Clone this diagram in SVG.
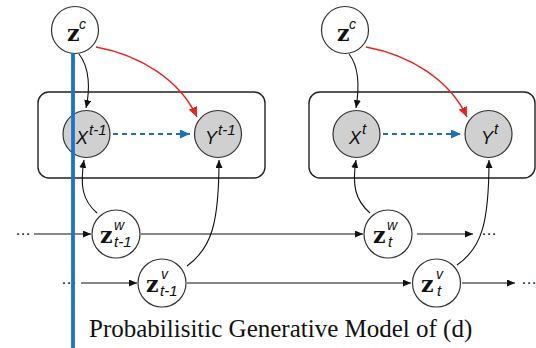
<svg xmlns="http://www.w3.org/2000/svg" width="536" height="348" viewBox="0 0 536 348">
  <defs>
    <marker id="ah" markerUnits="userSpaceOnUse" markerWidth="9" markerHeight="8" refX="8" refY="3.5" orient="auto">
      <path d="M0,0 L8,3.5 L0,7 Z" fill="#111"/>
    </marker>
    <marker id="ahRed" markerUnits="userSpaceOnUse" markerWidth="11" markerHeight="10" refX="10" refY="4.5" orient="auto">
      <path d="M0,0 L10,4.5 L0,9 Z" fill="#e8231c"/>
    </marker>
    <marker id="ahBlue" markerUnits="userSpaceOnUse" markerWidth="11" markerHeight="10" refX="10" refY="4.5" orient="auto">
      <path d="M0,0 L10,4.5 L0,9 Z" fill="#1f6fb8"/>
    </marker>
  </defs>
  <style>
    .plate { fill: none; stroke: #222; stroke-width: 1.4; }
    .latent { fill: #fff; stroke: #333; stroke-width: 1.2; }
    .obs { fill: #d0d0d0; stroke: #333; stroke-width: 1.2; }
    .edge { fill: none; stroke: #111; stroke-width: 1.1; marker-end: url(#ah); }
    .red { fill: none; stroke: #e8231c; stroke-width: 1.4; marker-end: url(#ahRed); }
    .dash { fill: none; stroke: #1f6fb8; stroke-width: 1.8; stroke-dasharray: 5 4; marker-end: url(#ahBlue); }
    .zb { font-family: "DejaVu Serif", serif; font-weight: bold; font-size: 22px; fill: #111; }
    .it { font-family: "Liberation Sans", sans-serif; font-style: italic; fill: #111; }
    .big { font-size: 18px; }
    .sm { font-size: 14px; }
    .sup { font-size: 15px; }
    .sub { font-size: 15px; }
    .dots { font-family: "Liberation Sans", sans-serif; font-size: 16px; fill: #111; }
    .title { font-family: "Liberation Serif", serif; font-size: 25px; fill: #111; }
  </style>

  <!-- plates around observed pairs -->
  <rect class="plate" x="38" y="92" width="227" height="86" rx="11"/>
  <rect class="plate" x="309" y="92" width="226" height="86" rx="11"/>

  <g id="connectors">
    <!-- global latent to X and Y -->
    <path class="edge" d="M79,54 C90,68 90,90 86,108"/>
    <path class="red" d="M96,47 C140,55 180,80 197,117"/>
    <path class="edge" d="M349,54 C360,68 359,90 356,108"/>
    <path class="red" d="M366,47 C410,55 450,80 467,117"/>
    <!-- X to Y -->
    <path class="dash" d="M113,134 L190,134"/>
    <path class="dash" d="M383,134 L461,134"/>
    <!-- dynamic latents to observed -->
    <path class="edge" d="M97,213 C82,200 80,185 84,160"/>
    <path class="edge" d="M187,266 C212,248 219,222 219,160"/>
    <path class="edge" d="M370,213 C355,200 352,185 356,160"/>
    <path class="edge" d="M457,265 C482,248 489,222 489,160"/>
    <!-- temporal chains -->
    <path class="edge" d="M34,234 L91,234"/>
    <path class="edge" d="M141,234 L363,234"/>
    <path class="edge" d="M417,234 L473,234"/>
    <path class="edge" d="M81,283 L137,283"/>
    <path class="edge" d="M187,283 L411,283"/>
    <path class="edge" d="M462,283 L515,283"/>
  </g>

  <text class="dots" x="15" y="235">…</text>
  <text class="dots" x="61" y="284">…</text>
  <text class="dots" x="481" y="235">…</text>
  <text class="dots" x="521" y="284">…</text>

  <g id="zc-prev">
    <circle class="latent" cx="75" cy="30" r="23.5"/>
    <text class="zb" x="67" y="41">z</text>
    <text class="it sm" x="79" y="29">c</text>
  </g>
  <g id="x-prev">
    <circle class="obs" cx="86.5" cy="134" r="23.5"/>
    <text class="it big" x="76" y="144">X</text>
    <text class="it sup" x="89" y="135">t-1</text>
  </g>
  <g id="y-prev">
    <circle class="obs" cx="218" cy="134" r="23.5"/>
    <text class="it big" x="205" y="144">Y</text>
    <text class="it sup" x="218" y="135">t-1</text>
  </g>
  <g id="zw-prev">
    <circle class="latent" cx="116" cy="234" r="24"/>
    <text class="zb" x="100" y="243">z</text>
    <text class="it sm" x="114" y="230">w</text>
    <text class="it sub" x="114" y="247">t-1</text>
  </g>
  <g id="zv-prev">
    <circle class="latent" cx="162" cy="283" r="24"/>
    <text class="zb" x="146" y="292">z</text>
    <text class="it sm" x="161" y="279">v</text>
    <text class="it sub" x="160" y="296">t-1</text>
  </g>

  <g id="zc">
    <circle class="latent" cx="345" cy="30" r="23.5"/>
    <text class="zb" x="337" y="41">z</text>
    <text class="it sm" x="349" y="29">c</text>
  </g>
  <g id="x">
    <circle class="obs" cx="356.5" cy="134" r="23.5"/>
    <text class="it big" x="349" y="144">X</text>
    <text class="it sup" x="362" y="134">t</text>
  </g>
  <g id="y">
    <circle class="obs" cx="488.5" cy="134" r="23.5"/>
    <text class="it big" x="481" y="144">Y</text>
    <text class="it sup" x="494" y="134">t</text>
  </g>
  <g id="zw">
    <circle class="latent" cx="388" cy="234" r="24"/>
    <text class="zb" x="373" y="243">z</text>
    <text class="it sm" x="387" y="230">w</text>
    <text class="it sub" x="388" y="247">t</text>
  </g>
  <g id="zv">
    <circle class="latent" cx="436.5" cy="283" r="24"/>
    <text class="zb" x="421" y="292">z</text>
    <text class="it sm" x="436" y="279">v</text>
    <text class="it sub" x="437" y="296">t</text>
  </g>

  <!-- time-step divider -->
  <line x1="73" y1="53.5" x2="73" y2="348" stroke="#1f73c4" stroke-width="3.8"/>

  <text class="title" x="89" y="337">Probabilisitic Generative Model of (d)</text>
</svg>
